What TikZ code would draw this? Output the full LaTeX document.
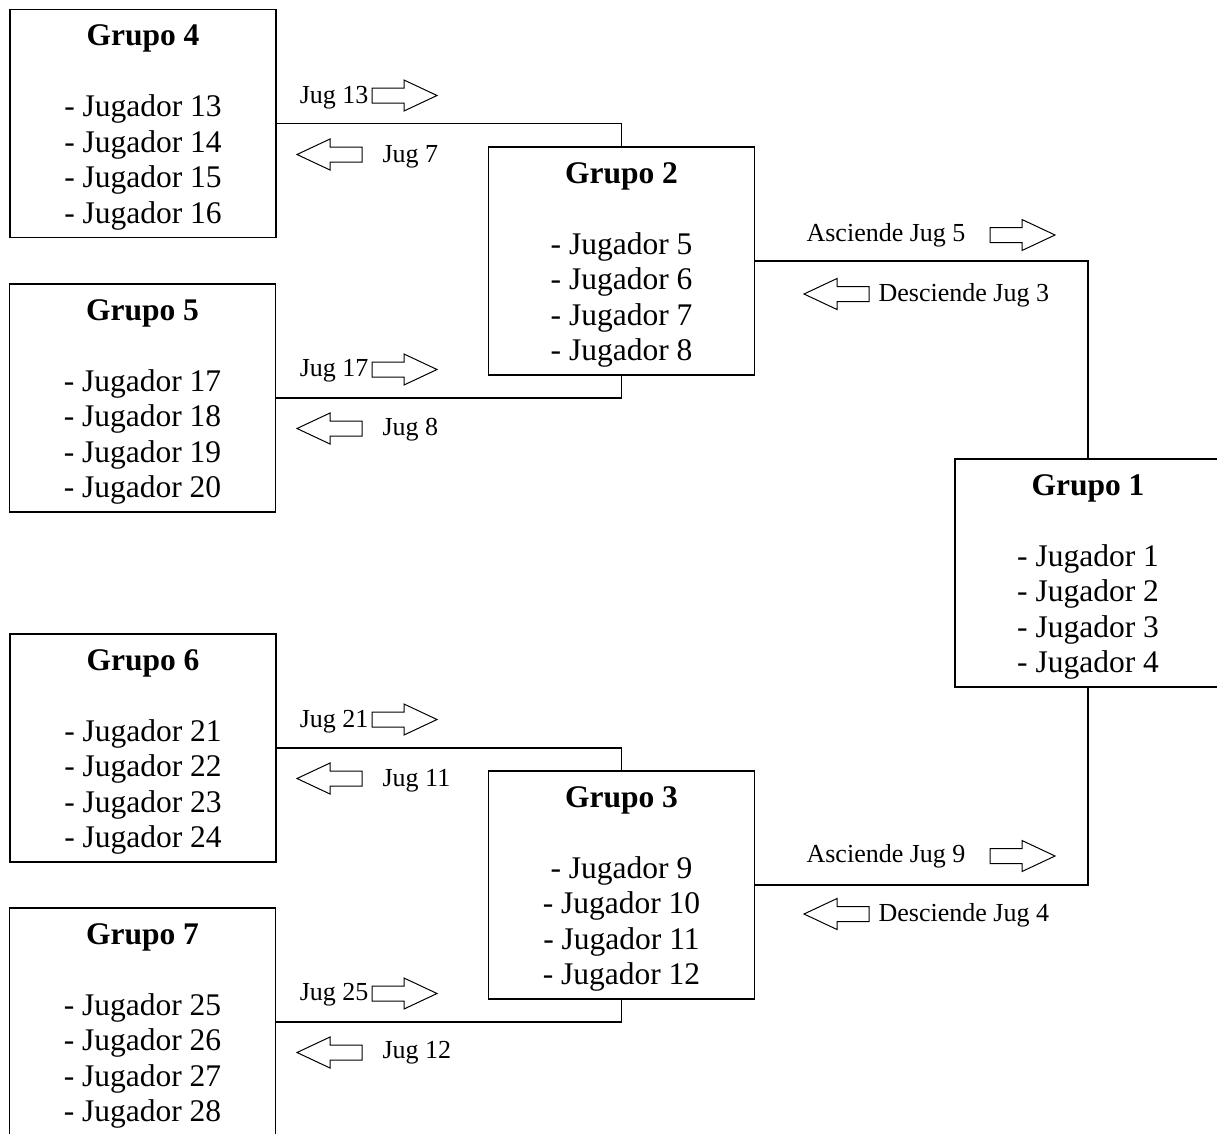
\documentclass[tikz,border=0pt]{standalone}
\usepackage{fontspec}
\setmainfont{Liberation Serif}
\usetikzlibrary{positioning,calc}

\newcommand{\titgrupo}[1]{\rule{0pt}{29pt}\textbf{Grupo #1}\\[35.5pt]}

\tikzset{
    grupo/.style={draw, line width=1.2pt, minimum width=266pt, minimum height=228pt,
        align=center, inner sep=0pt, font=\fontsize{31.5}{35.5}\selectfont},
    etiq/.style={inner sep=0pt, yshift=-2.5pt, font=\fontsize{26}{30}\selectfont},
    flecha/.pic={
        \draw[line width=1pt] (0,-7.5) -- (32,-7.5) -- (32,-15.5) -- (65,0)
            -- (32,15.5) -- (32,7.5) -- (0,7.5) -- cycle;
    }
}

\begin{document}
\begin{tikzpicture}[x=1pt, y=-1pt, line width=1.2pt]
    \useasboundingbox (0,0) rectangle (1217,1133);
    \clip (0,0) rectangle (1217,1133);

    % grupos
    \node[grupo] (g4) at (143,123.5) {\titgrupo{4}- Jugador 13\\- Jugador 14\\- Jugador 15\\- Jugador 16};
    \node[grupo] (g5) at (142.5,398) {\titgrupo{5}- Jugador 17\\- Jugador 18\\- Jugador 19\\- Jugador 20};
    \node[grupo] (g6) at (143,748) {\titgrupo{6}- Jugador 21\\- Jugador 22\\- Jugador 23\\- Jugador 24};
    \node[grupo] (g7) at (142.5,1022) {\titgrupo{7}- Jugador 25\\- Jugador 26\\- Jugador 27\\- Jugador 28};
    \node[grupo] (g2) at (621.5,261) {\titgrupo{2}- Jugador 5\\- Jugador 6\\- Jugador 7\\- Jugador 8};
    \node[grupo] (g3) at (621.5,885) {\titgrupo{3}- Jugador 9\\- Jugador 10\\- Jugador 11\\- Jugador 12};
    \node[grupo] (g1) at (1088,573) {\titgrupo{1}- Jugador 1\\- Jugador 2\\- Jugador 3\\- Jugador 4};

    % conexiones
    \draw (g4.east) -| (g2.north);
    \draw (g5.east) -| (g2.south);
    \draw (g6.east) -| (g3.north);
    \draw (g7.east) -| (g3.south);
    \draw (g2.east) -| (g1.north);
    \draw (g3.east) -| (g1.south);

    % intercambios grupo 4 / 5
    \node[etiq, anchor=east] (s13) at (369,95) {Jug 13};
    \pic at (372,95.5) {flecha};
    \pic[rotate=180] at (362,154.5) {flecha};
    \node[etiq, anchor=west] (b7) at (382,154) {Jug 7};
    \node[etiq, anchor=east] (s17) at (369,368) {Jug 17};
    \pic at (372,369.5) {flecha};
    \pic[rotate=180] at (362,428.5) {flecha};
    \node[etiq, anchor=west] (b8) at (382,427) {Jug 8};

    % intercambios grupo 6 / 7
    \node[etiq, anchor=east] (s21) at (369,719) {Jug 21};
    \pic at (372,719.5) {flecha};
    \pic[rotate=180] at (362,778.5) {flecha};
    \node[etiq, anchor=west] (b11) at (382,778) {Jug 11};
    \node[etiq, anchor=east] (s25) at (369,992) {Jug 25};
    \pic at (372,993.5) {flecha};
    \pic[rotate=180] at (362,1052.5) {flecha};
    \node[etiq, anchor=west] (b12) at (382,1050) {Jug 12};

    % intercambios con grupo 1
    \node[etiq, anchor=west] (s5) at (806,233) {Asciende Jug 5};
    \pic at (990,235) {flecha};
    \pic[rotate=180] at (869,294) {flecha};
    \node[etiq, anchor=west] (b3) at (878,293) {Desciende Jug 3};
    \node[etiq, anchor=west] (s9) at (806,854) {Asciende Jug 9};
    \pic at (990,856) {flecha};
    \pic[rotate=180] at (869,914) {flecha};
    \node[etiq, anchor=west] (b4) at (878,913) {Desciende Jug 4};
\end{tikzpicture}
\end{document}
